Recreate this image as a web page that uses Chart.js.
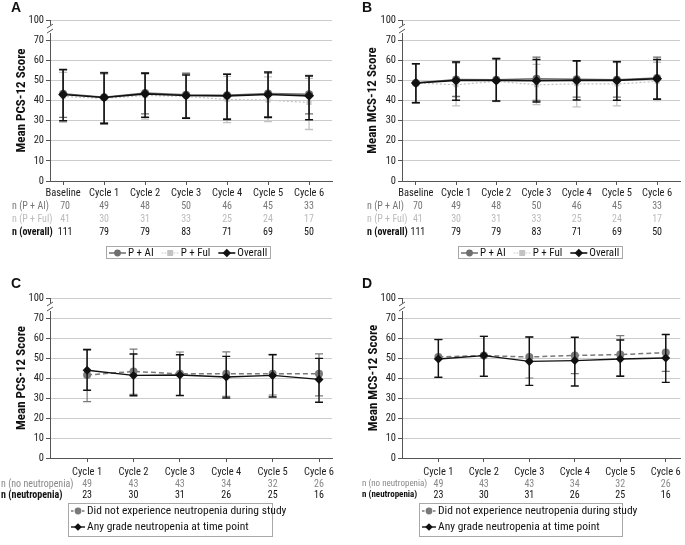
<!DOCTYPE html>
<html><head><meta charset="utf-8">
<script src="https://cdn.jsdelivr.net/npm/chart.js@4.4.1/dist/chart.umd.min.js"></script>
<style>
html,body{margin:0;padding:0;background:#fff}
body{width:685px;height:545px;overflow:hidden;position:relative}
canvas{position:absolute;display:block}
</style></head><body>
<canvas id="ca" style="left:0;top:0"></canvas>
<canvas id="cb" style="left:340px;top:0"></canvas>
<canvas id="cc" style="left:0;top:270px"></canvas>
<canvas id="cd" style="left:340px;top:270px"></canvas>
<script>
// ---------------- DATA ----------------
const timepointsAB = ['Baseline','Cycle 1','Cycle 2','Cycle 3','Cycle 4','Cycle 5','Cycle 6'];
const timepointsCD = ['Cycle 1','Cycle 2','Cycle 3','Cycle 4','Cycle 5','Cycle 6'];
const yTickValues = [0,10,20,30,40,50,60,70,80];
const yTickLabels = ['0','10','20','30','40','50','60','70','100'];

// Panel A: PCS-12 by treatment
const pcsAI     = [43.4, 41.6, 43.7, 42.8, 42.6, 43.5, 43.1];
const pcsAIHi   = [55.2, 54.0, 53.8, 53.5, 53.1, 53.6, 52.5];
const pcsAILo   = [31.6, 29.0, 33.4, 31.5, 31.0, 32.0, 33.4];
const pcsFul    = [42.0, 41.0, 42.5, 42.0, 40.5, 40.2, 39.0];
const pcsFulHi  = [54.0, 53.0, 53.0, 53.7, 52.0, 51.7, 51.0];
const pcsFulLo  = [29.2, 28.5, 30.7, 31.0, 29.0, 29.5, 25.6];
const pcsAll    = [43.0, 41.5, 43.3, 42.5, 42.3, 43.0, 42.3];
const pcsAllHi  = [55.4, 53.7, 53.6, 52.7, 53.0, 54.2, 52.2];
const pcsAllLo  = [29.9, 28.4, 31.7, 31.2, 30.6, 31.6, 30.4];

// Panel B: MCS-12 by treatment
const mcsAI     = [48.7, 50.4, 50.3, 50.8, 50.5, 50.3, 51.2];
const mcsAIHi   = [58.3, 59.2, 61.0, 61.6, 59.5, 59.4, 61.6];
const mcsAILo   = [39.0, 42.0, 39.8, 40.0, 41.7, 41.7, 40.8];
const mcsFul    = [48.7, 47.8, 49.5, 47.8, 48.3, 48.2, 49.5];
const mcsFulHi  = [58.0, 58.5, 60.5, 58.0, 59.8, 58.8, 59.0];
const mcsFulLo  = [38.8, 37.3, 39.5, 38.0, 36.8, 37.3, 40.0];
const mcsAll    = [48.7, 50.0, 50.0, 49.8, 50.0, 50.0, 50.8];
const mcsAllHi  = [58.3, 59.1, 60.7, 60.4, 59.8, 59.3, 60.4];
const mcsAllLo  = [38.9, 40.1, 39.8, 39.3, 40.3, 40.1, 40.6];

// n per time point
const nAI  = [70, 49, 48, 50, 46, 45, 33];
const nFul = [41, 30, 31, 33, 25, 24, 17];
const nAll = [111, 79, 79, 83, 71, 69, 50];
const nNoNeut = [49, 43, 43, 34, 32, 26];
const nNeut   = [23, 30, 31, 26, 25, 16];

// Panel C: PCS-12 by neutropenia
const pcsNoNeut   = [41.5, 43.3, 42.1, 42.1, 42.1, 42.1];
const pcsNoNeutHi = [54.5, 54.4, 53.0, 53.1, 51.8, 52.1];
const pcsNoNeutLo = [28.2, 31.8, 31.0, 30.8, 31.5, 31.1];
const pcsNeut     = [43.9, 41.3, 41.5, 40.5, 41.3, 39.3];
const pcsNeutHi   = [54.1, 52.0, 51.6, 50.8, 51.6, 49.8];
const pcsNeutLo   = [33.9, 31.1, 31.3, 30.0, 30.5, 27.9];

// Panel D: MCS-12 by neutropenia
const mcsNoNeut   = [50.5, 51.2, 50.5, 51.3, 51.7, 52.7];
const mcsNoNeutHi = [59.3, 60.8, 60.5, 60.5, 61.2, 62.0];
const mcsNoNeutLo = [40.5, 41.0, 40.0, 42.2, 41.2, 43.3];
const mcsNeut     = [49.5, 51.2, 48.3, 48.7, 49.5, 50.0];
const mcsNeutHi   = [59.2, 60.8, 60.5, 60.3, 59.0, 61.7];
const mcsNeutLo   = [40.3, 40.8, 36.3, 36.0, 40.8, 37.8];

// ---------------- STYLE ----------------
const FONT = '"Roboto Condensed","Liberation Sans",Arial,sans-serif';
const FONT_W = '"Liberation Sans",Arial,sans-serif';
Chart.defaults.font.family = FONT;
Chart.defaults.color = '#222';
const AXIS = '#555';
const GRID = '#cccccc';

const S_AI  = {label:'P + AI',  color:'#6e6e6e', lw:1.5, dash:[],    pt:'circle',  r:4,   ec:'#6e6e6e', ew:1.3, order:1};
const S_FUL = {label:'P + Ful', color:'#c3c3c3', lw:1.2, dash:[2,2], pt:'rect',    r:3.5, ec:'#c3c3c3', ew:1.3, order:2};
const S_ALL = {label:'Overall', color:'#111111', lw:1.6, dash:[],    pt:'rectRot', r:5,   ec:'#111111', ew:1.5, order:0};
const S_NO  = {label:'Did not experience neutropenia during study', color:'#7a7a7a', lw:1.5, dash:[5,3], pt:'circle', r:4, ec:'#7a7a7a', ew:1.2, order:1};
const S_NEU = {label:'Any grade neutropenia at time point', color:'#111111', lw:1.4, dash:[], pt:'rectRot', r:4.5, ec:'#111111', ew:1.4, order:0};

function marker(ctx, style, x, y, r, color) {
  ctx.save(); ctx.fillStyle = color; ctx.setLineDash([]);
  ctx.beginPath();
  if (style === 'circle') ctx.arc(x, y, r, 0, Math.PI*2);
  else if (style === 'rect') ctx.rect(x-r, y-r, 2*r, 2*r);
  else { ctx.moveTo(x, y-r); ctx.lineTo(x+r, y); ctx.lineTo(x, y+r); ctx.lineTo(x-r, y); ctx.closePath(); }
  ctx.fill(); ctx.restore();
}
function legendSym(ctx, x, y, w, s, dash) {
  ctx.save();
  ctx.strokeStyle = s.color; ctx.lineWidth = s.lw;
  ctx.setLineDash(dash || s.dash);
  ctx.beginPath(); ctx.moveTo(x, y); ctx.lineTo(x+w, y); ctx.stroke();
  ctx.restore();
  marker(ctx, s.pt, x + w/2, y, s.r*0.85, s.color);
}

function makePanel(p) {
  const cv = document.getElementById(p.id);
  cv.width = p.W; cv.height = p.H;
  const datasets = p.series.map(s => ({
    label: s.label,
    data: s.values.map((v, i) => ({x: i, y: v})),
    borderColor: s.color, backgroundColor: s.color,
    borderWidth: s.lw, borderDash: s.dash,
    pointStyle: s.pt, pointRadius: s.r, pointBorderWidth: 0,
    pointBackgroundColor: s.color, pointBorderColor: s.color,
    tension: 0, order: s.order,
    errHi: s.hi, errLo: s.lo, errColor: s.ec, errWidth: s.ew
  }));

  const plugin = {
    id: 'extras',
    beforeDatasetDraw(chart, args) {
      const d = chart.data.datasets[args.index];
      const {ctx, scales:{x, y}} = chart;
      ctx.save();
      ctx.strokeStyle = d.errColor; ctx.lineWidth = d.errWidth; ctx.setLineDash([]);
      d.errHi.forEach((hi, i) => {
        const lo = d.errLo[i];
        const px = x.getPixelForValue(i), ph = y.getPixelForValue(hi), pl = y.getPixelForValue(lo);
        ctx.beginPath();
        ctx.moveTo(px, ph); ctx.lineTo(px, pl);
        ctx.moveTo(px-4, ph); ctx.lineTo(px+4, ph);
        ctx.moveTo(px-4, pl); ctx.lineTo(px+4, pl);
        ctx.stroke();
      });
      ctx.restore();
    },
    afterDraw(chart) {
      const {ctx, chartArea, scales:{x, y}} = chart;
      ctx.save();
      ctx.textBaseline = 'middle';
      // panel letter
      ctx.font = 'bold 14px ' + FONT_W; ctx.fillStyle = '#111'; ctx.textAlign = 'left';
      ctx.fillText(p.letter, p.letterX, p.letterY);
      // axis break
      const L = chartArea.left, yb = y.getPixelForValue(75.5);
      ctx.fillStyle = '#fff'; ctx.fillRect(L-3, yb-4, 6, 8);
      ctx.strokeStyle = AXIS; ctx.lineWidth = 1;
      ctx.beginPath();
      ctx.moveTo(L-3, yb-1); ctx.lineTo(L+3, yb-5);
      ctx.moveTo(L-3, yb+4); ctx.lineTo(L+3, yb);
      ctx.stroke();
      // n rows
      p.nRows.forEach(r => {
        ctx.fillStyle = r.c;
        ctx.font = (r.b ? 'bold ' : '') + p.nLabelFont + 'px ' + FONT; ctx.textAlign = 'left';
        ctx.fillText(r.t, p.nLabelX, r.y);
        ctx.font = p.nFont + 'px ' + FONT; ctx.textAlign = 'center';
        r.v.forEach((v, i) => ctx.fillText(String(v), x.getPixelForValue(i) + (i === 0 ? p.firstShift : 0), r.y));
      });
      // legend
      const lg = p.legend;
      ctx.strokeStyle = '#a8a8a8'; ctx.lineWidth = 1; ctx.setLineDash([]);
      ctx.strokeRect(lg.x + 0.5, lg.y + 0.5, lg.w, lg.h);
      ctx.font = lg.font + 'px ' + FONT; ctx.fillStyle = '#111'; ctx.textAlign = 'left';
      if (lg.type === 'row') {
        let cx = lg.x + 3; const ym = lg.y + lg.h/2 + 1;
        p.series.forEach(s => {
          legendSym(ctx, cx, ym, 17, s, s.dash.length ? [1.5,1.5] : []);
          cx += 19;
          ctx.fillStyle = '#111'; ctx.fillText(s.label, cx, ym);
          cx += ctx.measureText(s.label).width + 8;
        });
      } else {
        p.series.forEach((s, k) => {
          const ym = lg.rowY[k];
          legendSym(ctx, lg.x + 3, ym, 14, s, s.dash.length ? [2.5,3] : []);
          ctx.fillStyle = '#111'; ctx.fillText(s.label, lg.x + 19, ym);
        });
      }
      ctx.restore();
    }
  };

  return new Chart(cv, {
    type: 'line',
    data: {datasets},
    options: {
      responsive: false, animation: false, events: [],
      layout: {padding: {left: p.PL, top: p.area.top, right: p.W - p.area.right, bottom: 0}},
      plugins: {legend: {display: false}, tooltip: {enabled: false}},
      scales: {
        x: {
          type: 'linear', min: p.xMin, max: p.xMax,
          afterBuildTicks: s => { s.ticks = p.labels.map((_, i) => ({value: i})); },
          afterFit: s => { s.height = p.H - p.area.bottom; },
          ticks: {callback: v => p.labels[v], font: {size: 10.5}, color: '#222', padding: p.xPad, maxRotation: 0, autoSkip: false},
          grid: {drawOnChartArea: false, drawTicks: true, tickLength: 4, tickColor: AXIS},
          border: {color: AXIS, width: 1}
        },
        y: {
          type: 'linear', min: 0, max: 80,
          afterBuildTicks: s => { s.ticks = yTickValues.map(v => ({value: v})); },
          afterFit: s => { s.width = p.area.left - p.PL; },
          ticks: {callback: v => yTickLabels[yTickValues.indexOf(v)], font: {size: 10.5}, color: '#222', padding: 2},
          grid: {color: c => (c.tick && c.tick.value === 0) ? 'rgba(0,0,0,0)' : GRID, lineWidth: 1, drawTicks: true, tickLength: 4, tickColor: AXIS},
          border: {color: AXIS, width: 1},
          title: {display: true, text: p.yTitle, color: '#111', font: {size: 13, weight: 'bold', family: FONT}, padding: {top: 3, bottom: 0}}
        }
      }
    },
    plugins: [plugin]
  });
}

const withVals = (s, v, hi, lo) => Object.assign({}, s, {values: v, hi: hi, lo: lo});

makePanel({
  id: 'ca', W: 340, H: 265, PL: 11, area: {left: 50, top: 20, right: 332, bottom: 181},
  xMin: -0.32, xMax: 6.56, xPad: 2, labels: timepointsAB, yTitle: 'Mean PCS-12 Score',
  letter: 'A', letterX: 11, letterY: 8,
  series: [withVals(S_AI, pcsAI, pcsAIHi, pcsAILo), withVals(S_FUL, pcsFul, pcsFulHi, pcsFulLo), withVals(S_ALL, pcsAll, pcsAllHi, pcsAllLo)],
  nFont: 10, nLabelFont: 10, nLabelX: 12, firstShift: 2,
  nRows: [{t: 'n (P + AI)', v: nAI, c: '#777', y: 206}, {t: 'n (P + Ful)', v: nFul, c: '#bbb', y: 219}, {t: 'n (overall)', v: nAll, c: '#111', b: true, y: 232}],
  legend: {type: 'row', x: 106, y: 246, w: 164, h: 12, font: 11}
});
makePanel({
  id: 'cb', W: 345, H: 265, PL: 22, area: {left: 62, top: 20, right: 343, bottom: 181},
  xMin: -0.345, xMax: 6.57, xPad: 2, labels: timepointsAB, yTitle: 'Mean MCS-12 Score',
  letter: 'B', letterX: 22, letterY: 8,
  series: [withVals(S_AI, mcsAI, mcsAIHi, mcsAILo), withVals(S_FUL, mcsFul, mcsFulHi, mcsFulLo), withVals(S_ALL, mcsAll, mcsAllHi, mcsAllLo)],
  nFont: 10, nLabelFont: 10, nLabelX: 27, firstShift: 2,
  nRows: [{t: 'n (P + AI)', v: nAI, c: '#777', y: 206}, {t: 'n (P + Ful)', v: nFul, c: '#bbb', y: 219}, {t: 'n (overall)', v: nAll, c: '#111', b: true, y: 232}],
  legend: {type: 'row', x: 118, y: 246, w: 164, h: 12, font: 11}
});
makePanel({
  id: 'cc', W: 340, H: 275, PL: 11, area: {left: 50, top: 28, right: 332, bottom: 188},
  xMin: -0.8, xMax: 5.28, xPad: 4, labels: timepointsCD, yTitle: 'Mean PCS-12 Score',
  letter: 'C', letterX: 11, letterY: 14,
  series: [withVals(S_NO, pcsNoNeut, pcsNoNeutHi, pcsNoNeutLo), withVals(S_NEU, pcsNeut, pcsNeutHi, pcsNeutLo)],
  nFont: 10, nLabelFont: 10, nLabelX: 1, firstShift: 0,
  nRows: [{t: 'n (no neutropenia)', v: nNoNeut, c: '#888', y: 214}, {t: 'n (neutropenia)', v: nNeut, c: '#111', b: true, y: 225}],
  legend: {type: 'col', x: 68, y: 233, w: 204, h: 33, font: 11.5, rowY: [241, 257]}
});
makePanel({
  id: 'cd', W: 345, H: 275, PL: 23, area: {left: 62, top: 28, right: 345, bottom: 188},
  xMin: -0.8, xMax: 5.32, xPad: 4, labels: timepointsCD, yTitle: 'Mean MCS-12 Score',
  letter: 'D', letterX: 22, letterY: 14,
  series: [withVals(S_NO, mcsNoNeut, mcsNoNeutHi, mcsNoNeutLo), withVals(S_NEU, mcsNeut, mcsNeutHi, mcsNeutLo)],
  nFont: 10, nLabelFont: 9, nLabelX: 22, firstShift: 0,
  nRows: [{t: 'n (no neutropenia)', v: nNoNeut, c: '#888', y: 214}, {t: 'n (neutropenia)', v: nNeut, c: '#111', b: true, y: 225}],
  legend: {type: 'col', x: 79, y: 233, w: 203, h: 33, font: 11.5, rowY: [241, 257]}
});
</script>
</body></html>
